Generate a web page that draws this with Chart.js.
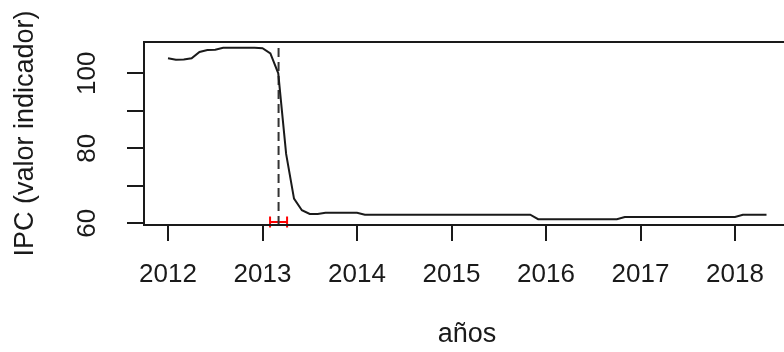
<!DOCTYPE html>
<html>
<head>
<meta charset="utf-8">
<script src="https://cdn.jsdelivr.net/npm/chart.js@4/dist/chart.umd.min.js"></script>
<style>
  html, body { margin: 0; padding: 0; overflow: hidden; background: #fff; }
  canvas { display: block; }
</style>
</head>
<body>
<canvas id="c" width="800" height="352"></canvas>
<script>
// Monthly IPC indicator values, one array per year (Jan..Dec)
const startYear = 2012;
const ipc2012 = [104.0, 103.6, 103.7, 104.0, 105.7, 106.2, 106.3, 106.8, 106.8, 106.8, 106.8, 106.8];
const ipc2013 = [106.7, 105.3, 100.0, 78.5, 66.6, 63.5, 62.5, 62.5, 62.8, 62.8, 62.8, 62.8];
const ipc2014 = [62.8, 62.3, 62.3, 62.3, 62.3, 62.3, 62.3, 62.3, 62.3, 62.3, 62.3, 62.3];
const ipc2015 = [62.3, 62.3, 62.3, 62.3, 62.3, 62.3, 62.3, 62.3, 62.3, 62.3, 62.3, 61.1];
const ipc2016 = [61.1, 61.1, 61.1, 61.1, 61.1, 61.1, 61.1, 61.1, 61.1, 61.1, 61.7, 61.7];
const ipc2017 = [61.7, 61.7, 61.7, 61.7, 61.7, 61.7, 61.7, 61.7, 61.7, 61.7, 61.7, 61.7];
const ipc2018 = [61.7, 62.3, 62.3, 62.3, 62.3];

// Estimated break date and its confidence interval
const breakDate = 2013.17;
const breakLow = 2013.08;
const breakHigh = 2013.26;
const breakMarkLevel = 60.35;

// Tick labels shown on the y axis
const yLabelled = [60, 80, 100];

const xTitle = 'años';
const yTitle = 'IPC (valor indicador)';

const yearly = [ipc2012, ipc2013, ipc2014, ipc2015, ipc2016, ipc2017, ipc2018];
const series = [];
yearly.forEach((vals, yi) => {
  vals.forEach((v, m) => series.push({ x: startYear + yi + m / 12, y: v }));
});

const X_MIN = 2011.746, X_MAX = 2018.582;
const Y_MIN = 59.55, Y_MAX = 108.35;
const FONT = "'Liberation Sans', Arial, sans-serif";
const INK = '#1a1a1a';

// Plot frame drawn around the chart area
const frame = {
  id: 'frame',
  afterDatasetsDraw(chart) {
    const { ctx, chartArea: a } = chart;
    ctx.save();
    ctx.strokeStyle = INK;
    ctx.lineWidth = 2;
    ctx.strokeRect(a.left, a.top, a.right - a.left, a.bottom - a.top);
    ctx.restore();
  }
};

new Chart(document.getElementById('c'), {
  type: 'line',
  data: {
    datasets: [
      {
        data: series,
        borderColor: INK,
        borderWidth: 2,
        pointRadius: 0,
        tension: 0
      },
      {
        data: [{ x: breakDate, y: Y_MIN }, { x: breakDate, y: Y_MAX }],
        borderColor: '#333',
        borderWidth: 2,
        borderDash: [9, 5],
        pointRadius: 0
      },
      {
        data: [{ x: breakLow, y: breakMarkLevel }, { x: breakHigh, y: breakMarkLevel }],
        borderColor: '#ff0000',
        borderWidth: 2,
        pointStyle: 'line',
        pointRotation: 90,
        pointRadius: 5.5,
        pointBorderColor: '#ff0000',
        pointBorderWidth: 2,
        clip: false
      }
    ]
  },
  options: {
    responsive: false,
    animation: false,
    devicePixelRatio: 1,
    layout: { padding: { top: 42, right: 10, left: 0, bottom: 0 } },
    plugins: { legend: { display: false }, tooltip: { enabled: false } },
    scales: {
      x: {
        type: 'linear',
        min: X_MIN,
        max: X_MAX,
        afterFit(s) { s.height = 127; },
        border: { display: false },
        grid: { drawOnChartArea: false, drawTicks: true, tickLength: 16, tickColor: INK, lineWidth: 2 },
        ticks: {
          stepSize: 1,
          includeBounds: false,
          autoSkip: false,
          maxRotation: 0,
          minRotation: 0,
          padding: 18,
          color: INK,
          font: { family: FONT, size: 26 },
          callback: (v) => String(v)
        },
        title: {
          display: true,
          text: xTitle,
          color: INK,
          font: { family: FONT, size: 27 },
          padding: { top: 0, bottom: 1 }
        }
      },
      y: {
        type: 'linear',
        min: Y_MIN,
        max: Y_MAX,
        afterFit(s) { s.width = 144; },
        border: { display: false },
        grid: { drawOnChartArea: false, drawTicks: true, tickLength: 17, tickColor: INK, lineWidth: 2 },
        ticks: {
          stepSize: 10,
          includeBounds: false,
          autoSkip: false,
          minRotation: 90,
          maxRotation: 90,
          crossAlign: 'center',
          padding: 17,
          color: INK,
          font: { family: FONT, size: 26 },
          callback: (v) => (yLabelled.includes(v) ? String(v) : '')
        },
        title: {
          display: true,
          text: yTitle,
          color: INK,
          font: { family: FONT, size: 27 },
          padding: { top: 9, bottom: 0 }
        }
      }
    }
  },
  plugins: [frame]
});
</script>
</body>
</html>
